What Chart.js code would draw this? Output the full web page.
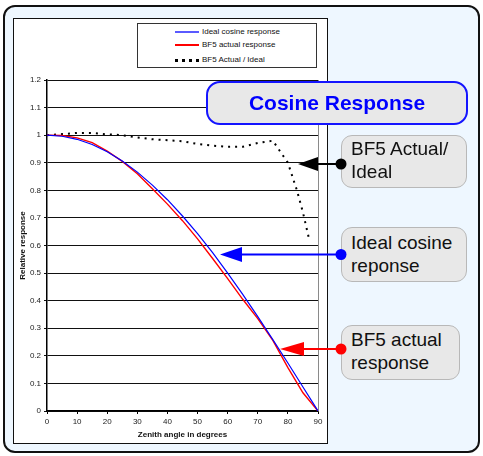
<!DOCTYPE html>
<html>
<head>
<meta charset="utf-8">
<script src="https://cdn.jsdelivr.net/npm/chart.js@4/dist/chart.umd.min.js"></script>
<style>
  html, body { margin:0; padding:0; width:483px; height:456px; overflow:hidden; background:#fff;
    font-family:'Liberation Sans', Arial, sans-serif; }
  .outer { position:absolute; left:3px; top:5px; width:477px; height:448px; box-sizing:border-box;
    background:#eef7ff; border:2px solid #111; border-radius:12px; }
  .panel { position:absolute; left:13px; top:18px; width:315px; height:426px; box-sizing:border-box;
    background:#fff; border:1.5px solid #111; }
  #c { position:absolute; left:0; top:0; z-index:2; }
  .legend { position:absolute; left:137px; top:23px; width:180px; height:45px; box-sizing:border-box;
    border:1px solid #333; background:#fff; z-index:3; font-size:8px; color:#111; }
  .lrow { position:absolute; left:0; height:10px; width:100%; }
  .lrow .sw { position:absolute; left:37px; width:24px; top:4px; height:2px; }
  .lrow .tx { position:absolute; left:64px; top:0; line-height:10px; white-space:nowrap; }
  .title { position:absolute; left:206px; top:81px; width:262px; height:44px; box-sizing:border-box;
    background:#e8e8e8; border:2px solid #1414ff; border-radius:14px; z-index:4;
    display:flex; align-items:center; justify-content:center;
    color:#0000ff; font-weight:bold; font-size:21px; }
  .call { position:absolute; box-sizing:border-box; background:#e8e8e8; border:1.5px solid #b8b8b8;
    border-radius:11px; z-index:4; }
  .call .t { position:absolute; left:9px; font-size:19px; line-height:23px; color:#111; white-space:nowrap; }
  svg { position:absolute; left:0; top:0; z-index:5; }
</style>
</head>
<body>
<div class="outer"></div>
<div class="panel"></div>
<canvas id="c" width="483" height="456"></canvas>
<div class="legend" id="legend"></div>
<div class="title">Cosine Response</div>
<div class="call" style="left:341px;top:135px;width:126px;height:53px;"><div class="t" style="top:0.5px;">BF5 Actual/<br>Ideal</div></div>
<div class="call" style="left:341px;top:227px;width:126px;height:55px;"><div class="t" style="top:2.5px;">Ideal cosine<br>reponse</div></div>
<div class="call" style="left:341px;top:325px;width:119px;height:55px;"><div class="t" style="top:2px;">BF5 actual<br>response</div></div>
<svg width="483" height="456">
  <line x1="317" y1="164" x2="341" y2="164" stroke="#000" stroke-width="2"/>
  <polygon points="298,164 318,157 318,171" fill="#000"/>
  <circle cx="341" cy="164" r="5.5" fill="#000"/>
  <line x1="241" y1="254.5" x2="341" y2="254.5" stroke="#0000ff" stroke-width="2"/>
  <polygon points="220,254.5 242,247 242,262" fill="#0000ff"/>
  <circle cx="341" cy="254.5" r="5.5" fill="#0000ff"/>
  <line x1="303" y1="349" x2="341" y2="349" stroke="#ff0000" stroke-width="2"/>
  <polygon points="280,349 304,342 304,356" fill="#ff0000"/>
  <circle cx="341" cy="349" r="5.5" fill="#ff0000"/>
</svg>
<script>
// ---- data ----
const angles = [0,5,10,15,20,25,30,35,40,45,50,55,60,65,70,75,80,85,90];
const idealResponse = [1.000,0.996,0.985,0.966,0.940,0.906,0.866,0.819,0.766,0.707,0.643,0.574,0.500,0.423,0.342,0.259,0.174,0.087,0.000];
const actualResponse = [1.000,0.999,0.990,0.973,0.942,0.905,0.860,0.806,0.750,0.690,0.624,0.553,0.480,0.405,0.335,0.256,0.157,0.066,0.000];
const ratioAngles = [0,5,10,15,20,25,30,35,40,45,50,55,60,65,70,75,80,83,85,87];
const ratioValues = [1.000,1.004,1.008,1.008,1.003,1.000,0.992,0.985,0.982,0.978,0.968,0.962,0.958,0.958,0.972,0.980,0.900,0.800,0.720,0.625];
const seriesNames = ['Ideal cosine response','BF5 actual response','BF5 Actual / Ideal'];
const xTickLabels = ['0','10','20','30','40','50','60','70','80','90'];
const yTickLabels = ['0','0.1','0.2','0.3','0.4','0.5','0.6','0.7','0.8','0.9','1','1.1','1.2'];
const xTitle = 'Zenith angle in degrees';
const yTitle = 'Relative response';

const pts = (xs, ys) => xs.map((x, i) => ({x: x, y: ys[i]}));

// HTML legend built from series names
const legendStyles = [
  'background:#5a5aff',
  'background:#ff0000',
  'background:repeating-linear-gradient(90deg,#000 0 3px,transparent 3px 7px);height:3px'
];
const legendTops = [3, 16, 31];
document.getElementById('legend').innerHTML = seriesNames.map((n, i) =>
  '<div class="lrow" style="top:' + legendTops[i] + 'px"><div class="sw" style="' + legendStyles[i] + '"></div><div class="tx">' + n + '</div></div>'
).join('');

Chart.defaults.font.family = "'Liberation Sans', Arial, sans-serif";

const rightBorder = {
  id: 'rightBorder',
  beforeDatasetsDraw(chart) {
    const {ctx, chartArea: a} = chart;
    ctx.save();
    ctx.strokeStyle = '#8a8a8a';
    ctx.lineWidth = 1;
    ctx.beginPath();
    ctx.moveTo(Math.round(a.right) + 0.5, a.top);
    ctx.lineTo(Math.round(a.right) + 0.5, a.bottom);
    ctx.stroke();
    ctx.restore();
  }
};

new Chart(document.getElementById('c'), {
  type: 'line',
  data: {
    datasets: [
      { label: seriesNames[0], data: pts(angles, idealResponse), borderColor: '#0000ff', borderWidth: 1.2,
        pointRadius: 0, tension: 0, fill: false },
      { label: seriesNames[1], data: pts(angles, actualResponse), borderColor: '#ff0000', borderWidth: 1.4,
        pointRadius: 0, tension: 0, fill: false },
      { label: seriesNames[2], data: pts(ratioAngles, ratioValues), borderColor: '#000', borderWidth: 2,
        borderDash: [2, 5], borderCapStyle: 'butt', pointRadius: 0, tension: 0, fill: false }
    ]
  },
  options: {
    responsive: false,
    devicePixelRatio: 1,
    animation: false,
    layout: { padding: { left: 14, top: 80, right: 165, bottom: 10 } },
    plugins: { legend: { display: false }, tooltip: { enabled: false } },
    scales: {
      x: {
        type: 'linear', min: 0, max: 90,
        afterFit: s => { s.height = 35; },
        ticks: { stepSize: 10, color: '#222', font: { size: 8 }, padding: 3, maxRotation: 0,
          callback: (v) => xTickLabels[Math.round(v / 10)] },
        grid: { drawOnChartArea: false, drawTicks: true, tickLength: 3, color: '#000', lineWidth: 1 },
        border: { color: '#000', width: 1.5 },
        title: { display: true, text: xTitle, color: '#111', font: { size: 8, weight: 'bold' },
          padding: { top: 0, bottom: 6 } }
      },
      y: {
        min: 0, max: 1.2,
        afterFit: s => { s.width = 33; },
        ticks: { stepSize: 0.1, color: '#222', font: { size: 8 }, padding: 3,
          callback: (v) => yTickLabels[Math.round(v * 10)] },
        grid: { color: '#111', lineWidth: 1, tickLength: 3 },
        border: { color: '#000', width: 1.5 },
        title: { display: true, text: yTitle, color: '#111', font: { size: 8, weight: 'bold' } }
      }
    }
  },
  plugins: [rightBorder]
});
</script>
</body>
</html>
